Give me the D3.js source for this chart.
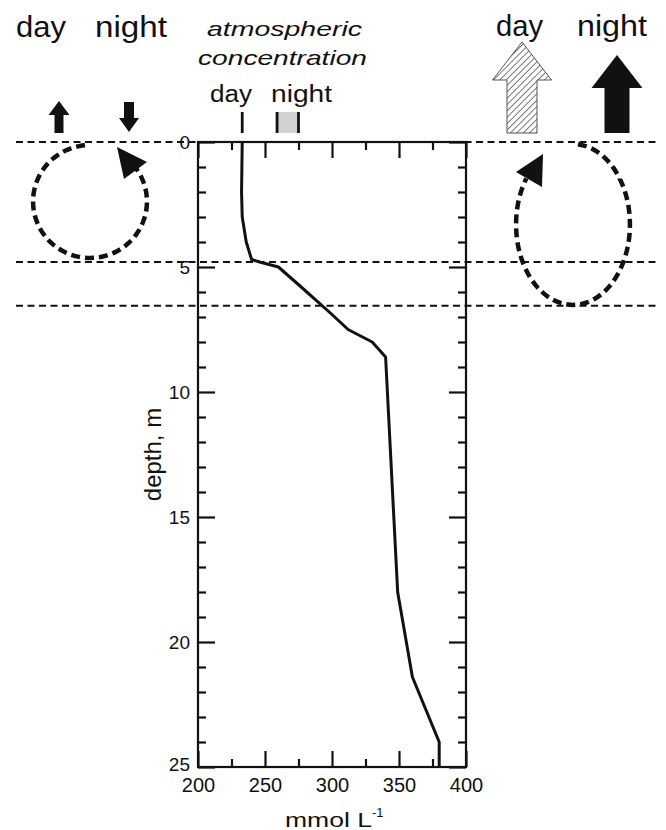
<!DOCTYPE html>
<html>
<head>
<meta charset="utf-8">
<script src="https://cdn.jsdelivr.net/npm/d3@7"></script>
<style>
  html, body { margin: 0; padding: 0; background: #fff; }
  svg { display: block; font-family: "Liberation Sans", Arial, sans-serif; }
</style>
</head>
<body>
<svg id="chart" width="666" height="830"></svg>
<script>
// Concentration profile with depth (mmol L-1 vs m)
const depth = [0, 2, 3, 4, 4.7, 4.8, 5.0, 5.8, 6.9, 7.5, 8.0, 8.6, 18.0, 21.4, 22.7, 24.0, 25];
const conc  = [233, 232.5, 233, 236, 240, 246, 260, 277, 300, 312, 330, 340, 349, 360, 370, 380, 380];

// Atmospheric concentration: day value and night range
const atmDay = 233;
const atmNight = [259, 275];

// Mixing-layer boundaries (m): surface, day mixed-layer base, night mixed-layer base
const layerDepths = [0, 4.8, 6.55];

// Axis ticks
const xMajor = [200, 250, 300, 350, 400];
const xMinor = [225, 275, 325, 375];
const yMajor = [0, 5, 10, 15, 20, 25];
const yMinor = d3.range(0, 26).filter(d => d % 5 !== 0);

const svg = d3.select("#chart");
const x = d3.scaleLinear().domain([200, 400]).range([198, 466]);
const y = d3.scaleLinear().domain([0, 25]).range([142, 767]);
const ink = "#111";

// hatch pattern for the daytime flux arrow
const defs = svg.append("defs");
const pat = defs.append("pattern")
  .attr("id", "hatch").attr("patternUnits", "userSpaceOnUse")
  .attr("width", 4.5).attr("height", 4.5)
  .attr("patternTransform", "rotate(45)");
pat.append("rect").attr("width", 4.5).attr("height", 4.5).attr("fill", "#fff");
pat.append("line").attr("x1", 0).attr("y1", 0).attr("x2", 0).attr("y2", 4.5)
  .attr("stroke", "#222").attr("stroke-width", 1.2);

// dashed mixing-layer lines across the whole figure
svg.append("g").selectAll("line").data(layerDepths).join("line")
  .attr("x1", 16).attr("x2", 658)
  .attr("y1", d => y(d)).attr("y2", d => y(d))
  .attr("stroke", ink).attr("stroke-width", 2.2)
  .attr("stroke-dasharray", "7,4.5");

// plot frame
svg.append("rect")
  .attr("x", x(200)).attr("y", y(0))
  .attr("width", x(400) - x(200)).attr("height", y(25) - y(0))
  .attr("fill", "none").attr("stroke", ink).attr("stroke-width", 2.2);

function styleAxis(g) {
  g.select(".domain").remove();
  g.selectAll(".tick line").attr("stroke", ink).attr("stroke-width", 2.2);
  g.selectAll(".tick text").attr("fill", ink).attr("font-size", 19)
    .attr("font-family", "Liberation Sans, Arial, sans-serif");
}

// bottom axis (labels + inward ticks)
svg.append("g").attr("transform", `translate(0,${y(25)})`)
  .call(d3.axisBottom(x).tickValues(xMajor).tickSizeInner(-16).tickSizeOuter(0).tickPadding(11)
    .tickFormat(d3.format("d")))
  .call(styleAxis)
  .call(g => g.selectAll(".tick text").attr("font-size", 20));
svg.append("g").attr("transform", `translate(0,${y(25)})`)
  .call(d3.axisBottom(x).tickValues(xMinor).tickSizeInner(-8).tickSizeOuter(0).tickFormat(""))
  .call(styleAxis);
// top axis ticks
svg.append("g").attr("transform", `translate(0,${y(0)})`)
  .call(d3.axisTop(x).tickValues(xMajor).tickSizeInner(-16).tickSizeOuter(0).tickFormat(""))
  .call(styleAxis);
svg.append("g").attr("transform", `translate(0,${y(0)})`)
  .call(d3.axisTop(x).tickValues(xMinor).tickSizeInner(-8).tickSizeOuter(0).tickFormat(""))
  .call(styleAxis);
// left axis (labels + inward ticks)
svg.append("g").attr("transform", `translate(${x(200)},0)`)
  .call(d3.axisLeft(y).tickValues(yMajor).tickSizeInner(-17).tickSizeOuter(0).tickPadding(8)
    .tickFormat(d3.format("d")))
  .call(styleAxis)
  .call(g => g.selectAll(".tick text").filter(d => d === 25).attr("dy", "0.2em"));
svg.append("g").attr("transform", `translate(${x(200)},0)`)
  .call(d3.axisLeft(y).tickValues(yMinor).tickSizeInner(-8).tickSizeOuter(0).tickFormat(""))
  .call(styleAxis);
// right axis ticks
svg.append("g").attr("transform", `translate(${x(400)},0)`)
  .call(d3.axisRight(y).tickValues(yMajor).tickSizeInner(-17).tickSizeOuter(0).tickFormat(""))
  .call(styleAxis);
svg.append("g").attr("transform", `translate(${x(400)},0)`)
  .call(d3.axisRight(y).tickValues(yMinor).tickSizeInner(-8).tickSizeOuter(0).tickFormat(""))
  .call(styleAxis);

// concentration profile
const line = d3.line().x(d => x(d[1])).y(d => y(d[0]));
svg.append("path")
  .datum(depth.map((d, i) => [d, conc[i]]))
  .attr("d", line)
  .attr("fill", "none").attr("stroke", ink).attr("stroke-width", 3)
  .attr("stroke-linejoin", "round");

// text helper: fixed-width label stretched to its slot
function label(px, py, str, size, width, opts = {}) {
  const t = svg.append("text").attr("x", px).attr("y", py)
    .attr("font-size", size).attr("fill", ink).text(str);
  if (width) t.attr("textLength", width).attr("lengthAdjust", "spacingAndGlyphs");
  if (opts.italic) t.attr("font-style", "italic");
  if (opts.anchor) t.attr("text-anchor", opts.anchor);
  return t;
}

// axis titles
svg.append("text")
  .attr("transform", `translate(161,${(y(0) + y(25)) / 2}) rotate(-90)`)
  .attr("text-anchor", "middle").attr("font-size", 24)
  .attr("fill", ink).text("depth, m");
const xt = svg.append("text").attr("x", 285).attr("y", 827)
  .attr("font-size", 20).attr("fill", ink);
xt.append("tspan").attr("textLength", 87).attr("lengthAdjust", "spacingAndGlyphs").text("mmol L");
xt.append("tspan").attr("dy", -10).attr("font-size", 13).text("-1");

// atmospheric concentration markers
svg.append("line").attr("x1", x(atmDay)).attr("x2", x(atmDay))
  .attr("y1", 112).attr("y2", 133).attr("stroke", ink).attr("stroke-width", 2.8);
svg.append("rect").attr("x", x(atmNight[0])).attr("y", 112)
  .attr("width", x(atmNight[1]) - x(atmNight[0])).attr("height", 21)
  .attr("fill", "#d2d2d2");
atmNight.forEach(v => svg.append("line").attr("x1", x(v)).attr("x2", x(v))
  .attr("y1", 112).attr("y2", 133).attr("stroke", ink).attr("stroke-width", 2.8));

label(207, 36, "atmospheric", 21, 155, { italic: true });
label(198, 65, "concentration", 21, 169, { italic: true });
label(210, 101.5, "day", 23, 42);
label(271, 101.5, "night", 23, 61);

// column headers
label(16, 37, "day", 30, 50);
label(95, 37, "night", 30, 72);
label(496, 36, "day", 30, 47);
label(577, 36, "night", 30, 70);

// block arrow: cx centre, yTip tip, yBase head base, yEnd shaft end, hw head width, sw shaft width
function blockArrow(cx, yTip, yBase, yEnd, hw, sw) {
  const p = d3.path();
  p.moveTo(cx, yTip);
  p.lineTo(cx + hw / 2, yBase);
  p.lineTo(cx + sw / 2, yBase);
  p.lineTo(cx + sw / 2, yEnd);
  p.lineTo(cx - sw / 2, yEnd);
  p.lineTo(cx - sw / 2, yBase);
  p.lineTo(cx - hw / 2, yBase);
  p.closePath();
  return p.toString();
}
// small surface fluxes (left column)
svg.append("path").attr("d", blockArrow(59, 101, 115, 133, 21, 9)).attr("fill", ink);
svg.append("path").attr("d", blockArrow(129, 132, 118, 102, 20, 10)).attr("fill", ink);
// large surface fluxes (right column)
svg.append("path").attr("d", blockArrow(522, 42, 80, 133, 59, 30))
  .attr("fill", "url(#hatch)").attr("stroke", "#555").attr("stroke-width", 1);
svg.append("path").attr("d", blockArrow(617, 55, 88, 133, 51, 25)).attr("fill", ink);

// circulation loops, spanning the mixed layer of each regime
function loop(cx, top, bottom, rx, a0, a1) {
  const cy = (top + bottom) / 2, ry = (bottom - top) / 2;
  const n = 60, pts = [];
  for (let i = 0; i <= n; i++) {
    const t = a0 + (a1 - a0) * i / n;
    pts.push([cx + rx * Math.cos(t), cy + ry * Math.sin(t)]);
  }
  return pts;
}
const loopLine = d3.line().curve(d3.curveBasis);
const deg = Math.PI / 180;
// daytime loop: shallow, counter-clockwise
const dayLoop = loop(90, y(0) + 3, y(4.64), 57, -95 * deg, -95 * deg - 305 * deg);
svg.append("path").attr("d", loopLine(dayLoop))
  .attr("fill", "none").attr("stroke", ink).attr("stroke-width", 4.5)
  .attr("stroke-dasharray", "9,5");
svg.append("path").attr("d", "M117,147 L147,162 L124,179 Z").attr("fill", ink);
// night loop: deep, clockwise
const nightLoop = loop(573, y(0) + 2, y(6.52), 57, -85 * deg, -85 * deg + 300 * deg);
svg.append("path").attr("d", loopLine(nightLoop))
  .attr("fill", "none").attr("stroke", ink).attr("stroke-width", 4.5)
  .attr("stroke-dasharray", "9,5");
svg.append("path").attr("d", "M543,154 L516,172 L542,187 Z").attr("fill", ink);
</script>
</body>
</html>
